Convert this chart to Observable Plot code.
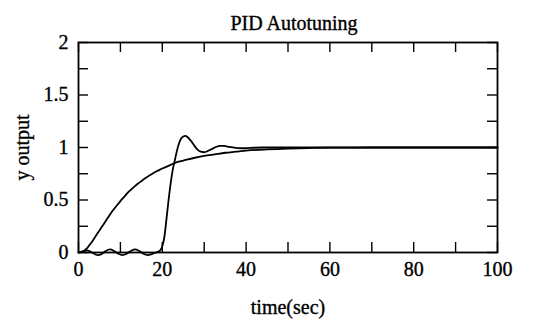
<!DOCTYPE html>
<html>
<head>
<meta charset="utf-8">
<script src="https://cdn.jsdelivr.net/npm/d3@7"></script>
<script src="https://cdn.jsdelivr.net/npm/@observablehq/plot@0.6"></script>
<style>
  html, body { margin: 0; padding: 0; background: white; }
  #chart svg text { stroke: black; stroke-width: 0.35px; }
</style>
</head>
<body>
<div id="chart"></div>
<script>
// Smooth (first-order-like) response
const tSmooth = [0, 1, 2, 3, 4, 5, 6, 7, 8, 9, 10, 11, 12, 13, 14, 15, 16, 17, 18, 19, 20, 22, 23.5, 25, 27.5, 30, 32.5, 35, 37.5, 40, 45, 50, 55, 60, 70, 80, 90, 100];
const ySmooth = [0, 0.01, 0.04, 0.09, 0.15, 0.21, 0.27, 0.33, 0.39, 0.44, 0.49, 0.535, 0.58, 0.615, 0.65, 0.68, 0.71, 0.735, 0.76, 0.78, 0.80, 0.835, 0.86, 0.875, 0.9, 0.92, 0.935, 0.95, 0.96, 0.97, 0.982, 0.99, 0.995, 0.998, 1.0, 1.0, 1.0, 1.0];

// Autotuning (relay oscillation then PID step) response
const tOsc = [0, 1, 2, 3, 4, 4.6, 5.5, 6.5, 7.5, 8.5, 9.5, 10.5, 11.5, 12.5, 13.5, 14.5, 15.5, 16.5, 17.5, 18.5, 19.5, 20, 20.5, 21, 21.5, 22, 22.5, 23, 23.5, 24, 24.5, 25, 25.5, 26, 26.8, 27.6, 28.4, 29.2, 30, 30.8, 31.8, 32.8, 33.8, 34.8, 36, 37.5, 39, 41, 44, 50, 60, 70, 80, 90, 100];
const yOsc = [0, 0.01, 0.02, 0.005, -0.018, -0.025, -0.015, 0.015, 0.03, 0.015, -0.012, -0.025, -0.012, 0.015, 0.03, 0.015, -0.012, -0.025, -0.015, 0.0, 0.02, 0.06, 0.15, 0.32, 0.5, 0.66, 0.79, 0.88, 0.97, 1.04, 1.085, 1.105, 1.11, 1.1, 1.065, 1.02, 0.98, 0.96, 0.955, 0.965, 0.985, 1.005, 1.015, 1.015, 1.005, 0.996, 0.993, 0.996, 1.0, 1.0, 1.0, 1.0, 1.0, 1.0, 1.0];

const xTicks = [0, 10, 20, 30, 40, 50, 60, 70, 80, 90, 100];
const xLabels = [0, 20, 40, 60, 80, 100];
const yTicks = [0, 0.25, 0.5, 0.75, 1, 1.25, 1.5, 1.75, 2];
const yLabels = [0, 0.5, 1, 1.5, 2];

const titleText = "PID Autotuning";
const xLabelText = "time(sec)";
const yLabelText = "y output";

const smooth = tSmooth.map((t, i) => ({t, y: ySmooth[i]}));
const osc = tOsc.map((t, i) => ({t, y: yOsc[i]}));

const W = 534, H = 323, ML = 78, MR = 37, MT = 42, MB = 71;
const FW = W - ML - MR, FH = H - MT - MB;
const TICK = 10;

const chart = Plot.plot({
  width: W,
  height: H,
  marginLeft: ML,
  marginRight: MR,
  marginTop: MT,
  marginBottom: MB,
  style: {fontFamily: "'Liberation Serif', 'Times New Roman', serif", fontSize: "20px", color: "black", background: "white"},
  x: {domain: [0, 100]},
  y: {domain: [0, 2]},
  marks: [
    Plot.tickX(xTicks, {x: d => d, insetTop: FH - TICK, stroke: "black", strokeWidth: 1.4}),
    Plot.tickX(xTicks, {x: d => d, insetBottom: FH - TICK, stroke: "black", strokeWidth: 1.4}),
    Plot.tickY(yTicks, {y: d => d, insetRight: FW - TICK, stroke: "black", strokeWidth: 1.4}),
    Plot.tickY(yTicks, {y: d => d, insetLeft: FW - TICK, stroke: "black", strokeWidth: 1.4}),
    Plot.frame({stroke: "black", strokeWidth: 1.8}),
    Plot.line(smooth, {x: "t", y: "y", stroke: "black", strokeWidth: 1.8, curve: "monotone-x"}),
    Plot.line(osc, {x: "t", y: "y", stroke: "black", strokeWidth: 1.8, curve: "monotone-x"}),
    Plot.axisX({ticks: xLabels, tickSize: 0, tickPadding: 9, label: null, fontSize: 20, tickFormat: d => String(d)}),
    Plot.axisY({ticks: yLabels, tickSize: 0, tickPadding: 10, label: null, fontSize: 20, tickFormat: d => String(d)}),
    Plot.text([titleText], {frameAnchor: "top", textAnchor: "middle", dx: 6, dy: -26.5, fontSize: 20, fill: "black"}),
    Plot.text([xLabelText], {frameAnchor: "bottom", textAnchor: "middle", dy: 61, fontSize: 20, fill: "black"}),
    Plot.text([yLabelText], {frameAnchor: "left", textAnchor: "middle", dx: -56, rotate: -90, fontSize: 20, fill: "black"})
  ]
});
document.getElementById("chart").appendChild(chart);
</script>
</body>
</html>
